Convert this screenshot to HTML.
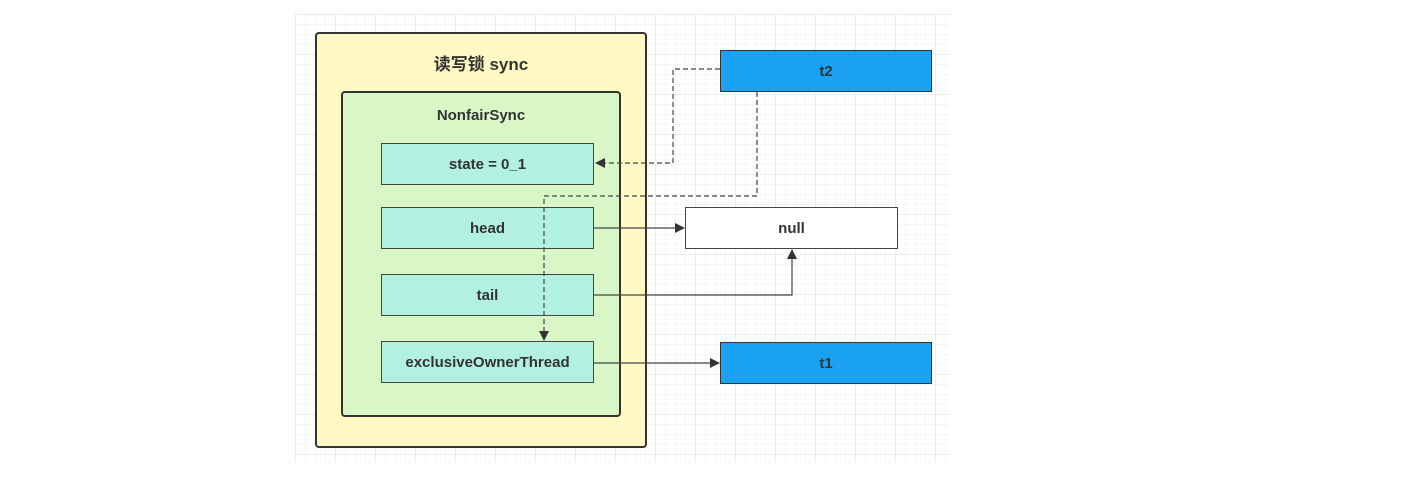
<!DOCTYPE html>
<html><head><style>
body{margin:0;width:1406px;height:499px;background:#fff;overflow:hidden;position:relative;font-family:"Liberation Sans","Noto Sans CJK SC",sans-serif}
.grid{position:absolute;left:295px;top:14px;width:656px;height:448px;
background-image:linear-gradient(#ececec 1px,transparent 1px),linear-gradient(90deg,#ececec 1px,transparent 1px),linear-gradient(#f6f6f6 1px,transparent 1px),linear-gradient(90deg,#f6f6f6 1px,transparent 1px);
background-size:40px 40px,40px 40px,10px 10px,10px 10px;}
.b{position:absolute;box-sizing:border-box;display:flex;align-items:center;justify-content:center;font-weight:bold;font-size:15px;color:#333}
</style></head><body>
<div class="grid"></div>
<div class="b" style="left:315px;top:32px;width:332px;height:416px;background:#fff9c4;border:2px solid #333;border-radius:4px;align-items:flex-start;padding-top:16px;font-size:17px">读写锁 sync</div>
<div class="b" style="left:341px;top:91px;width:280px;height:326px;background:#d9f7c6;border:2px solid #333;border-radius:4px;align-items:flex-start;padding-top:14px">NonfairSync</div>
<div class="b" style="left:381px;top:143px;width:213px;height:42px;background:#b2f0e0;border:1px solid #444">state = 0_1</div>
<div class="b" style="left:381px;top:207px;width:213px;height:42px;background:#b2f0e0;border:1px solid #444">head</div>
<div class="b" style="left:381px;top:274px;width:213px;height:42px;background:#b2f0e0;border:1px solid #444">tail</div>
<div class="b" style="left:381px;top:341px;width:213px;height:42px;background:#b2f0e0;border:1px solid #444">exclusiveOwnerThread</div>
<div class="b" style="left:720px;top:50px;width:212px;height:42px;background:#1ba1f2;border:1px solid #333">t2</div>
<div class="b" style="left:685px;top:207px;width:213px;height:42px;background:#fff;border:1px solid #444">null</div>
<div class="b" style="left:720px;top:342px;width:212px;height:42px;background:#1ba1f2;border:1px solid #333">t1</div>
<svg width="1406" height="499" style="position:absolute;left:0;top:0">
<defs><marker id="a" markerWidth="10" markerHeight="10" refX="9" refY="5" orient="auto" markerUnits="userSpaceOnUse"><path d="M0,0 L10,5 L0,10 Z" fill="#333"/></marker></defs>
<g fill="none" stroke="#444" stroke-width="1.2">
<path d="M720,69 H673 V163 H596" stroke-dasharray="5,3" marker-end="url(#a)"/>
<path d="M757,92 V196 H544 V340" stroke-dasharray="5,3" marker-end="url(#a)"/>
<path d="M594,228 H684" marker-end="url(#a)"/>
<path d="M594,295 H792 V250" marker-end="url(#a)"/>
<path d="M594,363 H719" marker-end="url(#a)"/>
</g></svg>
</body></html>
